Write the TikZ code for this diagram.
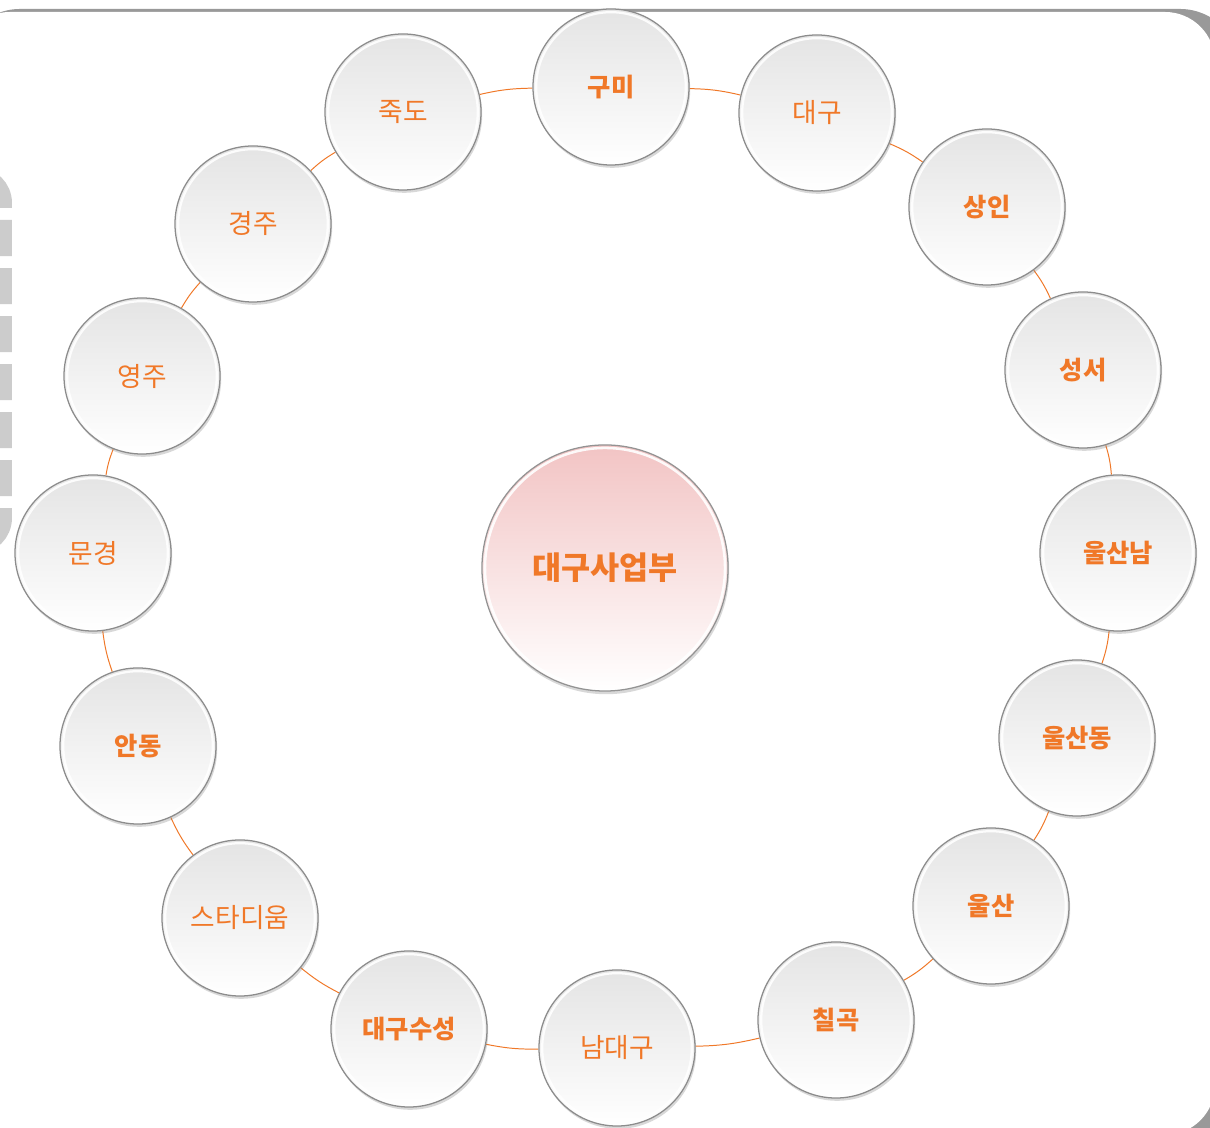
\documentclass[tikz,border=0pt]{standalone}
\usepackage{fontspec}
\newfontfamily\kr{Noto Sans CJK KR}
\usepackage{tikz}
\usetikzlibrary{shadows, backgrounds}

\definecolor{tagorange}{RGB}{240,120,40}
\definecolor{ballgray}{RGB}{228,228,228}
\definecolor{ballmid}{RGB}{238,238,238}
\definecolor{hubpink}{RGB}{242,196,196}
\definecolor{hubmid}{RGB}{249,220,220}

\begin{document}
\begin{tikzpicture}[
  x=0.025cm, y=0.025cm,
  every node/.style={font=\kr\fontsize{19}{21}\selectfont, text=tagorange},
  town/.style={circle, draw=gray!90, line width=0.9pt, minimum size=3.9cm, inner sep=0pt,
    top color=ballgray, middle color=ballmid, bottom color=white,
    path picture={\draw[white, line width=1.6pt, opacity=0.9]
      (path picture bounding box.center) circle (1.87cm);},
    drop shadow={opacity=0.3, shadow xshift=0.03cm, shadow yshift=-0.07cm}},
  boldtown/.style={town, font=\kr\bfseries\fontsize{18}{20}\selectfont},
  hub/.style={circle, draw=gray!85, line width=0.9pt, minimum size=6.15cm, inner sep=0pt,
    top color=hubpink, middle color=hubmid, bottom color=white,
    font=\kr\bfseries\fontsize{22.5}{24}\selectfont,
    path picture={\draw[white, line width=1.8pt, opacity=0.9]
      (path picture bounding box.center) circle (3.0cm);},
    drop shadow={opacity=0.3, shadow xshift=0.03cm, shadow yshift=-0.08cm}},
  ring/.style={draw=tagorange, line width=0.7pt},
]
\useasboundingbox (0,0) rectangle (1210,1128);

% Centre
\node[hub] (hub) at (605,560) {대구사업부};

% Ring of offices, clockwise from the top
\node[boldtown] (gumi) at (611,1041) {구미};
\node[town] (daegu) at (817,1015) {대구};
\node[boldtown] (sangin) at (987,921) {상인};
\node[boldtown] (seongseo) at (1083,758) {성서};
\node[boldtown] (ulsannam) at (1118,575) {울산남};
\node[boldtown] (ulsandong) at (1077,390) {울산동};
\node[boldtown] (ulsan) at (991,222) {울산};
\node[boldtown] (chilgok) at (836,108) {칠곡};
\node[town] (namdaegu) at (617,80) {남대구};
\node[boldtown] (suseong) at (409,99) {대구수성};
\node[town] (stadium) at (240,210) {스타디움};
\node[boldtown] (andong) at (138,382) {안동};
\node[town] (mungyeong) at (93,575) {문경};
\node[town] (yeongju) at (142,752) {영주};
\node[town] (gyeongju) at (253,904) {경주};
\node[town] (jukdo) at (403,1016) {죽도};

\begin{scope}[on background layer]
  % Frame
  \clip (0,0) rectangle (1210,1128);
  \fill[gray!80, rounded corners=1.5cm] (-40,-60) rectangle (1240,1119);
  \fill[white, rounded corners=1.25cm] (-40,-7) rectangle (1215,1116);
  \draw[gray!40, line width=8.5pt, dash pattern=on 0.9cm off 0.3cm, rounded corners=0.75cm]
    (-300,580) rectangle (6,955);

  % Ring
  \draw[ring] (gumi) to[bend left=6] (daegu);
  \draw[ring] (daegu) to[bend left=6] (sangin);
  \draw[ring] (sangin) to[bend left=6] (seongseo);
  \draw[ring] (seongseo) to[bend left=6] (ulsannam);
  \draw[ring] (ulsannam) to[bend left=6] (ulsandong);
  \draw[ring] (ulsandong) to[bend left=6] (ulsan);
  \draw[ring] (ulsan) to[bend left=6] (chilgok);
  \draw[ring] (chilgok) to[bend left=6] (namdaegu);
  \draw[ring] (namdaegu) to[bend left=6] (suseong);
  \draw[ring] (suseong) to[bend left=6] (stadium);
  \draw[ring] (stadium) to[bend left=6] (andong);
  \draw[ring] (andong) to[bend left=6] (mungyeong);
  \draw[ring] (mungyeong) to[bend left=6] (yeongju);
  \draw[ring] (yeongju) to[bend left=6] (gyeongju);
  \draw[ring] (gyeongju) to[bend left=6] (jukdo);
  \draw[ring] (jukdo) to[bend left=6] (gumi);
\end{scope}

\end{tikzpicture}
\end{document}
